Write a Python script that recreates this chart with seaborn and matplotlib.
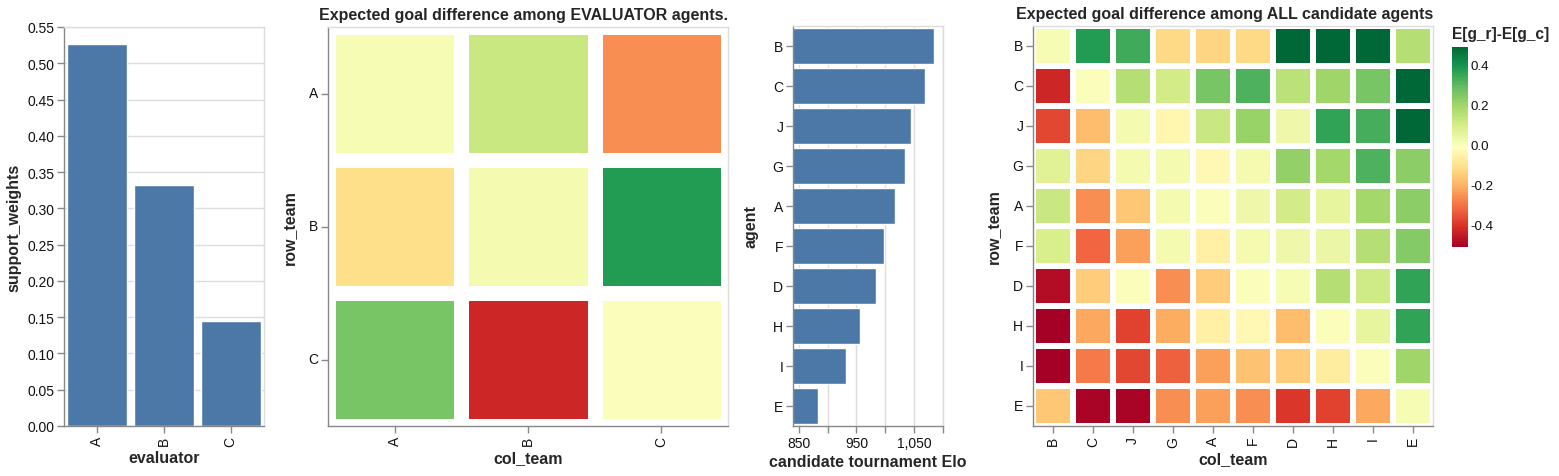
import numpy as np
import pandas as pd
import matplotlib
matplotlib.use("Agg")
import matplotlib.pyplot as plt
import seaborn as sns

# --- data ---
evaluators = ["A", "B", "C"]
support_weights = [0.526, 0.332, 0.145]

eval_teams = ["A", "B", "C"]
eval_gd = [
    [0.01, 0.12, -0.26],
    [-0.11, 0.02, 0.38],
    [0.26, -0.43, 0.00],
]

agents = ["B", "C", "J", "G", "A", "F", "D", "H", "I", "E"]
elo = [1085, 1069, 1044, 1034, 1016, 998, 983, 956, 931, 884]

all_gd = [
    [0.01, 0.38, 0.34, -0.12, -0.13, -0.12, 0.49, 0.49, 0.49, 0.16],
    [-0.43, 0.00, 0.16, 0.10, 0.26, 0.32, 0.15, 0.20, 0.26, 0.49],
    [-0.37, -0.18, 0.02, -0.04, 0.12, 0.21, 0.03, 0.36, 0.33, 0.49],
    [0.07, -0.13, 0.02, 0.02, -0.03, 0.02, 0.22, 0.19, 0.32, 0.23],
    [0.12, -0.26, -0.16, 0.02, 0.00, 0.03, 0.10, 0.05, 0.19, 0.23],
    [0.09, -0.32, -0.23, 0.02, -0.06, 0.02, 0.03, 0.04, 0.16, 0.24],
    [-0.48, -0.15, 0.00, -0.26, -0.15, 0.00, 0.01, 0.16, 0.11, 0.36],
    [-0.51, -0.22, -0.38, -0.21, -0.06, -0.03, -0.18, 0.00, 0.05, 0.36],
    [-0.51, -0.29, -0.37, -0.33, -0.23, -0.17, -0.15, -0.07, 0.00, 0.20],
    [-0.16, -0.50, -0.50, -0.26, -0.23, -0.26, -0.40, -0.38, -0.22, 0.01],
]

BAR = "#4c78a8"
AXIS = "#888888"
GRID = "#dddddd"
VMIN, VMAX = -0.51, 0.49

sns.set_style("white")
plt.rcParams["font.family"] = ["Liberation Sans", "DejaVu Sans"]

W, H = 1559, 477
fig = plt.figure(figsize=(W / 100, H / 100), dpi=100)


def px_axes(x0, y0, x1, y1):
    return fig.add_axes([x0 / W, (H - y1) / H, (x1 - x0) / W, (y1 - y0) / H])


def vega_frame(ax):
    for side in ["left", "bottom"]:
        ax.spines[side].set_visible(True)
        ax.spines[side].set_color(AXIS)
        ax.spines[side].set_linewidth(1)
    for side in ["top", "right"]:
        ax.spines[side].set_visible(True)
        ax.spines[side].set_color(GRID)
        ax.spines[side].set_linewidth(1)
    ax.tick_params(bottom=True, left=True, length=5, width=1, color=AXIS,
                   labelsize=10, labelcolor="#111111", pad=2)


ax1 = px_axes(64, 28, 264, 427)
ax2 = px_axes(328, 28, 728, 427)
ax3 = px_axes(793, 27, 943, 427)
ax4 = px_axes(1033, 27, 1433, 427)
cax = px_axes(1452, 48, 1468, 248)

lab = dict(fontsize=11.5, fontweight="bold")
ttl = dict(fontsize=11.5, fontweight="bold")

# 1. support weights
sns.barplot(x=evaluators, y=support_weights, color=BAR, saturation=1,
            width=0.9, ax=ax1)
ax1.set_ylim(0, 0.55)
ticks = np.round(np.arange(0, 0.551, 0.05), 2)
ax1.set_yticks(ticks)
ax1.set_yticklabels([f"{t:.2f}" for t in ticks])
ax1.yaxis.grid(True, color=GRID, linewidth=1)
ax1.set_axisbelow(True)
vega_frame(ax1)
ax1.tick_params(axis="x", labelrotation=90)
ax1.set_xlabel("evaluator", labelpad=3, **lab)
ax1.set_ylabel("support_weights", labelpad=4, **lab)

# 2. evaluator heatmap
df_eval = pd.DataFrame(eval_gd, index=eval_teams, columns=eval_teams)
sns.heatmap(df_eval, cmap="RdYlGn", vmin=VMIN, vmax=VMAX, cbar=False,
            linewidths=9.5, linecolor="white", ax=ax2)
vega_frame(ax2)
ax2.tick_params(axis="x", labelrotation=90)
ax2.tick_params(axis="y", labelrotation=0)
ax2.set_xlabel("col_team", labelpad=3, **lab)
ax2.set_ylabel("row_team", labelpad=8, **lab)
ax2.set_title("Expected goal difference among EVALUATOR agents.", pad=6,
              x=0.489, **ttl)

# 3. candidate Elo
sns.barplot(x=elo, y=agents, orient="h", color=BAR, saturation=1,
            width=0.9, ax=ax3)
ax3.set_xlim(840, 1100)
xt = [850, 900, 950, 1000, 1050, 1100]
ax3.set_xticks(xt)
ax3.set_xticklabels(["850", "", "950", "", "1,050", ""])
ax3.xaxis.grid(True, color=GRID, linewidth=1)
ax3.set_axisbelow(True)
vega_frame(ax3)
ax3.set_xlabel("candidate tournament Elo", labelpad=3, **lab)
ax3.set_ylabel("agent", labelpad=10, **lab)

# 4. all candidates heatmap
df_all = pd.DataFrame(all_gd, index=agents, columns=agents)
sns.heatmap(df_all, cmap="RdYlGn", vmin=VMIN, vmax=VMAX, cbar=False,
            linewidths=2.9, linecolor="white", ax=ax4)
vega_frame(ax4)
ax4.tick_params(axis="x", labelrotation=90)
ax4.tick_params(axis="y", labelrotation=0)
ax4.set_xlabel("col_team", labelpad=3, **lab)
ax4.set_ylabel("row_team", labelpad=8, **lab)
ax4.set_title("Expected goal difference among ALL candidate agents", pad=6,
              x=0.478, **ttl)

# colour legend
cb = fig.colorbar(ax4.collections[0], cax=cax)
cb.outline.set_visible(False)
cb.set_ticks([0.4, 0.2, 0.0, -0.2, -0.4])
cb.set_ticklabels(["0.4", "0.2", "0.0", "-0.2", "-0.4"])
cax.tick_params(length=0, pad=2, labelsize=9.6, labelcolor="#111111")
fig.text(1452 / W, 1 - 34 / H, "E[g_r]-E[g_c]", fontsize=11.2,
         fontweight="bold", va="center", ha="left")

fig.savefig("out.png", dpi=100)
